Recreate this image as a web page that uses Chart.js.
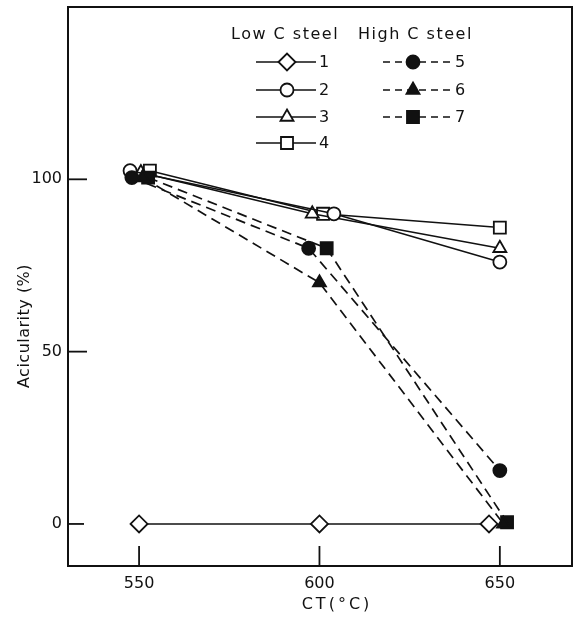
<!DOCTYPE html>
<html><head><meta charset="utf-8">
<script src="https://cdn.jsdelivr.net/npm/chart.js@4.4.0/dist/chart.umd.min.js"></script>
<style>html,body{margin:0;padding:0;background:#fff}#wrap{width:575px;height:617px}</style>
</head><body><div id="wrap"><canvas id="c" width="575" height="617"></canvas></div>
<script>
const xTicks = [550, 600, 650];
const yTicks = [0, 50, 100];
const xTitle = 'CT(°C)';
const yTitle = 'Acicularity (%)';
const groupLow = 'Low C steel';
const groupHigh = 'High C steel';
const seriesLabels = ['1', '2', '3', '4', '5', '6', '7'];
const s1x = [550, 600, 647], s1y = [0, 0, 0];
const s2x = [547.5, 604, 650], s2y = [102.5, 90, 76];
const s3x = [550.5, 598, 650], s3y = [102, 90, 80];
const s4x = [553, 601, 650], s4y = [102.5, 90, 86];
const s5x = [548, 597, 650], s5y = [100.5, 80, 15.5];
const s6x = [551, 600, 651], s6y = [100.5, 70, 0];
const s7x = [552.5, 602, 652], s7y = [100.5, 80, 0.5];

const INK = '#111';
function pts(xs, ys) { return xs.map((x, i) => ({ x: x, y: ys[i] })); }
const styles = [
  { ps: 'rectRot', r: 8.5, fill: false, dash: [] },
  { ps: 'circle', r: 6.5, fill: false, dash: [] },
  { ps: 'triangle', r: 7.5, fill: false, dash: [] },
  { ps: 'rect', r: 8.5, fill: false, dash: [] },
  { ps: 'circle', r: 6.5, fill: true, dash: [10, 6] },
  { ps: 'triangle', r: 7.5, fill: true, dash: [10, 6] },
  { ps: 'rect', r: 8.5, fill: true, dash: [10, 6] }
];
const seriesData = [pts(s1x, s1y), pts(s2x, s2y), pts(s3x, s3y), pts(s4x, s4y), pts(s5x, s5y), pts(s6x, s6y), pts(s7x, s7y)];

const datasets = seriesData.map((d, i) => ({
  label: seriesLabels[i],
  data: d,
  showLine: true,
  borderColor: INK,
  borderWidth: i < 4 ? 1.5 : 1.7,
  borderDash: styles[i].dash,
  pointStyle: styles[i].ps,
  pointRadius: styles[i].r,
  pointHoverRadius: styles[i].r,
  pointBackgroundColor: styles[i].fill ? INK : '#fff',
  pointBorderColor: INK,
  pointBorderWidth: 1.8,
  order: i < 4 ? 2 : 1
}));

function marker(ctx, st, x, y) {
  ctx.save();
  ctx.setLineDash([]);
  ctx.fillStyle = st.fill ? INK : '#fff';
  ctx.strokeStyle = INK;
  ctx.lineWidth = 1.8;
  if (Chart.helpers && Chart.helpers.drawPoint) {
    Chart.helpers.drawPoint(ctx, { pointStyle: st.ps, radius: st.r, rotation: 0, borderWidth: 1.8 }, x, y);
  } else {
    ctx.beginPath(); ctx.arc(x, y, st.r, 0, Math.PI * 2); ctx.fill(); ctx.stroke();
  }
  ctx.restore();
}

const deco = {
  id: 'deco',
  afterDatasetsDraw(chart) {
    const ctx = chart.ctx, a = chart.chartArea;
    const xs = chart.scales.x, ys = chart.scales.y;
    ctx.save();
    ctx.strokeStyle = INK;
    ctx.lineWidth = 2;
    ctx.setLineDash([]);
    ctx.strokeRect(a.left, a.top, a.right - a.left, a.bottom - a.top);
    ctx.lineWidth = 1.8;
    yTicks.forEach(v => {
      const p = ys.getPixelForValue(v);
      ctx.beginPath(); ctx.moveTo(a.left, p); ctx.lineTo(a.left + (v === 0 ? 16 : 19), p); ctx.stroke();
    });
    xTicks.forEach(v => {
      const p = xs.getPixelForValue(v);
      ctx.beginPath(); ctx.moveTo(p, a.bottom); ctx.lineTo(p, a.bottom - 20); ctx.stroke();
    });
    // titles
    ctx.fillStyle = INK;
    ctx.font = '16px "DejaVu Sans"';
    ctx.textAlign = 'center'; ctx.textBaseline = 'middle';
    ctx.letterSpacing = '3px';
    ctx.fillText(xTitle, 337, 605);
    ctx.letterSpacing = '0.5px';
    ctx.save();
    ctx.translate(25, 326); ctx.rotate(-Math.PI / 2);
    ctx.fillText(yTitle, 0, 0);
    ctx.restore();
    // legend
    ctx.font = '16px "DejaVu Sans"';
    ctx.letterSpacing = '1.5px';
    ctx.textAlign = 'left';
    ctx.fillText(groupLow, 231, 35);
    ctx.fillText(groupHigh, 358, 35);
    ctx.letterSpacing = '0px';
    const rows = [62, 90, 117, 143];
    for (let i = 0; i < 4; i++) {
      const y = rows[i];
      ctx.setLineDash([]); ctx.lineWidth = 1.5;
      ctx.beginPath(); ctx.moveTo(256, y); ctx.lineTo(316, y); ctx.stroke();
      marker(ctx, styles[i], 287, y);
      ctx.fillText(seriesLabels[i], 319, y + 1);
    }
    for (let i = 4; i < 7; i++) {
      const y = rows[i - 4];
      ctx.setLineDash([7, 5]); ctx.lineWidth = 1.7;
      ctx.beginPath(); ctx.moveTo(383, y); ctx.lineTo(454, y); ctx.stroke();
      ctx.setLineDash([]);
      marker(ctx, styles[i], 413, y);
      ctx.fillText(seriesLabels[i], 455, y + 1);
    }
    ctx.restore();
  }
};

new Chart(document.getElementById('c'), {
  type: 'scatter',
  data: { datasets: datasets },
  plugins: [deco],
  options: {
    responsive: false,
    animation: false,
    devicePixelRatio: 1,
    layout: { autoPadding: false, padding: { top: 7, right: 3, left: 0, bottom: 0 } },
    plugins: { legend: { display: false }, tooltip: { enabled: false } },
    scales: {
      x: {
        type: 'linear', min: 530.3, max: 670,
        afterBuildTicks: s => { s.ticks = xTicks.map(v => ({ value: v })); },
        afterFit: s => { s.height = 51; s.paddingLeft = 0; s.paddingRight = 0; },
        grid: { display: false, drawTicks: false, tickLength: 0 },
        border: { display: false },
        ticks: { color: INK, font: { family: 'DejaVu Sans', size: 16 }, padding: 8, maxRotation: 0 }
      },
      y: {
        type: 'linear', min: -12.2, max: 150,
        afterBuildTicks: s => { s.ticks = yTicks.map(v => ({ value: v })); },
        afterFit: s => { s.width = 68; s.paddingTop = 0; s.paddingBottom = 0; },
        grid: { display: false, drawTicks: false, tickLength: 0 },
        border: { display: false },
        ticks: { color: INK, font: { family: 'DejaVu Sans', size: 16 }, padding: 6 }
      }
    }
  }
});
</script></body></html>
